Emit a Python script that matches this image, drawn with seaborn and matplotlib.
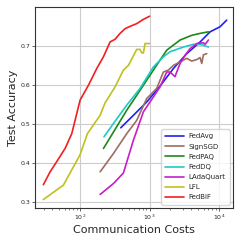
import numpy as np
import pandas as pd
import seaborn as sns
import matplotlib
matplotlib.use("Agg")
import matplotlib.pyplot as plt

# communication cost / test accuracy
fedavg_x = [385, 585, 910, 1416, 2203, 3427, 5333, 7430, 10330, 12880]
fedavg_y = [0.490, 0.522, 0.556, 0.597, 0.642, 0.680, 0.710, 0.736, 0.749, 0.766]

signsgd_x = [194, 302, 469, 653, 910, 1268, 1582, 1867, 2203, 2748, 3427, 4044, 4776, 5333, 5634, 5956, 6649]
signsgd_y = [0.377, 0.424, 0.475, 0.509, 0.565, 0.591, 0.633, 0.638, 0.650, 0.659, 0.668, 0.661, 0.665, 0.670, 0.655, 0.677, 0.680]

fedpaq_x = [217, 302, 469, 729, 1135, 1766, 2748, 4044, 5333, 7030]
fedpaq_y = [0.437, 0.479, 0.535, 0.586, 0.638, 0.689, 0.715, 0.727, 0.732, 0.736]

feddq_x = [221, 302, 469, 729, 1135, 1582, 1973, 3069, 4274, 5634, 7030]
feddq_y = [0.467, 0.501, 0.548, 0.591, 0.646, 0.672, 0.685, 0.697, 0.704, 0.703, 0.697]

ladaquart_x = [194, 302, 420, 585, 815, 1135, 1416, 1766, 1973, 2320, 2748, 3244, 3830, 4776, 5956, 6300, 7030]
ladaquart_y = [0.319, 0.347, 0.374, 0.458, 0.531, 0.569, 0.595, 0.633, 0.633, 0.621, 0.655, 0.676, 0.693, 0.706, 0.708, 0.704, 0.715]

lfl_x = [29.6, 57.5, 100, 127.5, 194, 229, 319, 420, 496, 653, 729, 770, 815, 861, 1000]
lfl_y = [0.306, 0.343, 0.421, 0.475, 0.522, 0.554, 0.595, 0.638, 0.650, 0.691, 0.691, 0.682, 0.682, 0.706, 0.706]

fedbif_x = [29.6, 37, 46, 60.8, 75.9, 100, 131.8, 173.8, 216.6, 270, 319, 376, 443, 524, 653, 815, 1000]
fedbif_y = [0.344, 0.377, 0.403, 0.437, 0.475, 0.561, 0.599, 0.642, 0.672, 0.710, 0.717, 0.732, 0.744, 0.750, 0.757, 0.768, 0.776]

methods = ["FedAvg", "SignSGD", "FedPAQ", "FedDQ", "LAdaQuart", "LFL", "FedBiF"]
xs = [fedavg_x, signsgd_x, fedpaq_x, feddq_x, ladaquart_x, lfl_x, fedbif_x]
ys = [fedavg_y, signsgd_y, fedpaq_y, feddq_y, ladaquart_y, lfl_y, fedbif_y]
colors = ["#2020f0", "#9c6e62", "#1a8a1a", "#20c8c8", "#c81ec8", "#c0c020", "#f02020"]

df = pd.concat([pd.DataFrame({"cost": x, "acc": y, "method": m})
                for x, y, m in zip(xs, ys, methods)], ignore_index=True)

sns.set_theme(style="whitegrid")

fig, ax = plt.subplots(figsize=(2.42, 2.42), dpi=100)
sns.lineplot(data=df, x="cost", y="acc", hue="method", hue_order=methods,
             palette=colors, sort=False, estimator=None, linewidth=1.2, ax=ax)

ax.set_xscale("log")
ax.set_xlim(22.5, 15900)
ax.set_ylim(0.284, 0.799)
ax.set_yticks([0.3, 0.4, 0.5, 0.6, 0.7])
ax.set_xlabel("Communication Costs", fontsize=8, labelpad=2)
ax.set_ylabel("Test Accuracy", fontsize=8, labelpad=2)
ax.tick_params(axis="both", which="major", labelsize=4.5, length=2, width=0.5, pad=1.5, bottom=True, left=True)
ax.tick_params(axis="x", which="minor", length=1.2, width=0.4, bottom=True)
ax.grid(True, which="major", color="#cccccc", linewidth=0.8)
ax.grid(False, which="minor")
for s in ax.spines.values():
    s.set_color("#333333")
    s.set_linewidth(0.8)

leg = ax.legend(loc="lower right", fontsize=5, handlelength=2.6, handletextpad=0.7,
                borderpad=0.6, labelspacing=0.6, frameon=True)
leg.get_frame().set_edgecolor("#cccccc")

fig.subplots_adjust(left=0.145, right=0.963, bottom=0.14, top=0.97)
fig.savefig("out.png", dpi=100)
